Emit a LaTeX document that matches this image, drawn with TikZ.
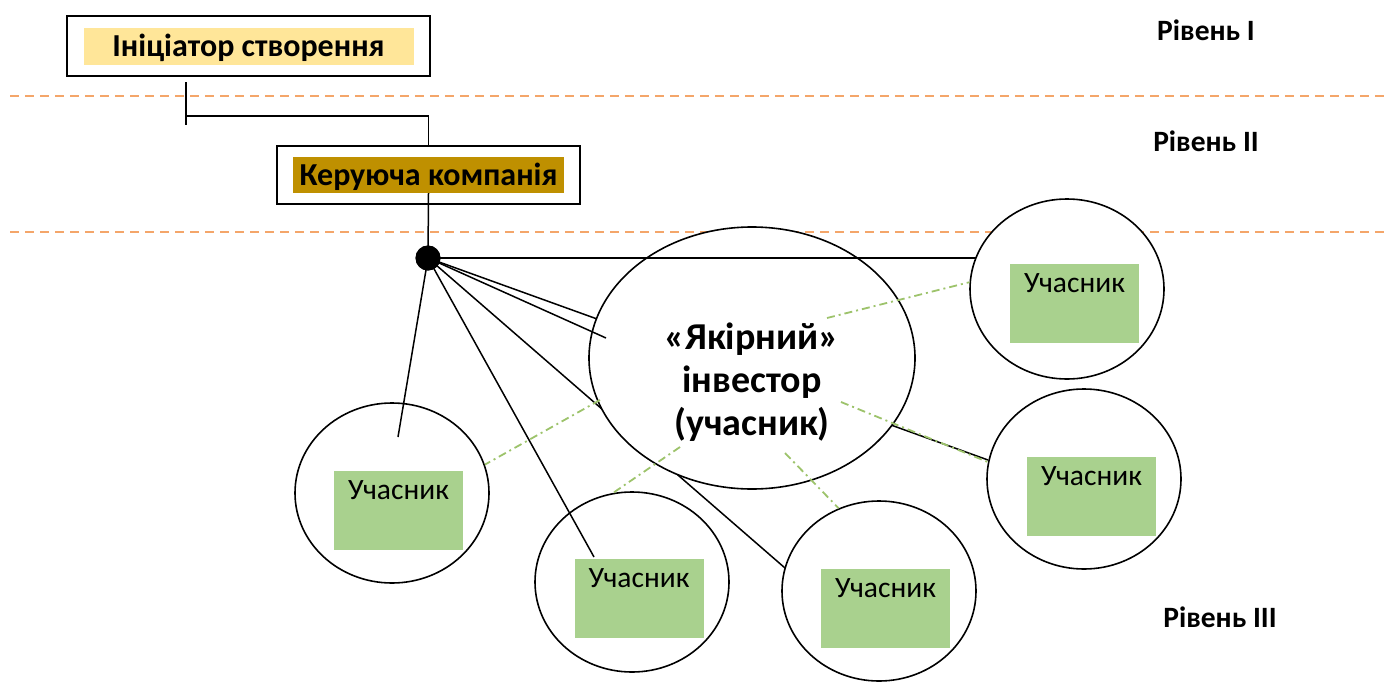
\documentclass[tikz,border=0pt]{standalone}
\usepackage{fontspec}
\setmainfont{Carlito}
\usepackage{xcolor}
\usetikzlibrary{calc,positioning,shapes.geometric}
\definecolor{color_line_level}{HTML}{F4A66A}
\definecolor{color_fill_init}{HTML}{FFE699}
\definecolor{color_fill_mgr}{HTML}{BF9000}
\definecolor{color_fill_member}{HTML}{A9D18E}
\definecolor{color_line_tie}{HTML}{9DC36B}

\begin{document}
\begin{tikzpicture}[x=1pt,y=-1pt,black,
		every node/.style={font=\fontsize{29.5}{34}\selectfont},
		levelline/.style={color_line_level, line width=1.5pt, dash pattern=on 9pt off 6pt},
		linkline/.style={line width=1.5pt},
		tieline/.style={color_line_tie, line width=1.8pt, dash pattern=on 8pt off 4pt on 2pt off 4pt},
		framebox/.style={draw, line width=1.7pt, inner sep=0pt},
		member/.style={draw, ellipse, fill=white, line width=1.6pt, minimum width=194pt, minimum height=180pt, inner sep=0pt},
		memberbox/.style={fill=color_fill_member, minimum width=129pt, minimum height=79pt, inner sep=0pt,
			label={[anchor=north, inner sep=0pt, yshift=-10pt]north:Учасник}},
		levellabel/.style={font=\fontsize{29.5}{34}\selectfont\bfseries},
		titlebox/.style={inner sep=0pt, text height=25pt, text depth=4pt, font=\fontsize{32}{38}\selectfont\bfseries},
		hub/.style={circle, fill=black, minimum size=25pt, inner sep=0pt}]
				\useasboundingbox (0, 0) rectangle (1390, 691);
				% Points
				\coordinate (LAL) at (10, 96);
				\coordinate (LAR) at (1385, 96);
				\coordinate (LBL) at (10, 232);
				\coordinate (LBR) at (1385, 232);

				\coordinate (tickT) at (186, 82);
				\coordinate (tickM) at (186, 116);
				\coordinate (tickB) at (186, 125);

				\coordinate (endTop) at (976, 258);
				\coordinate (endRight) at (988, 460);
				\coordinate (endShort) at (606, 338);
				\coordinate (endLow) at (785, 568);
				\coordinate (endMid) at (594, 557);
				\coordinate (endLeft) at (398, 437);

				\coordinate (tieA) at (827, 318);
				\coordinate (tieB) at (600, 400);
				\coordinate (tieC) at (680, 447);
				\coordinate (tieD) at (785, 453);
				\coordinate (tieE) at (841, 402);

				% Level borders
				\draw[levelline] (LAL) -- (LAR);
				\draw[levelline] (LBL) -- (LBR);

				% Level I and II
				\node[framebox, minimum width=363pt, minimum height=60pt] (init) at (248.5, 46) {};
				\node[titlebox, fill=color_fill_init, minimum width=330pt, minimum height=37pt]
					(initfill) at (init.center) {Ініціатор створення};
				\node[framebox, minimum width=303pt, minimum height=58pt] (mgr) at (428.5, 175) {};
				\node[titlebox, fill=color_fill_mgr, minimum width=271pt, minimum height=36pt]
					(mgrfill) at (mgr.center) {Керуюча компанія};

				\draw[linkline] (tickT) -- (tickB);
				\draw[linkline] (tickM) -| (mgr.north);
				\draw[linkline] (mgrfill.south) -- (428, 258);

				% Members
				\foreach \n/\cx/\cy/\bx/\by in {1/1067/289/1074.5/303.5, 2/1084/479/1091.5/496.5,
						3/392/493/398.5/510.5, 4/632/582/639/598.5, 5/879/591/885.5/608.5}{
					\node[member] (p\n) at (\cx, \cy) {};
					\node[memberbox] (p\n box) at (\bx, \by) {};
				}

				% Level III
				\node[hub] (hub) at (428, 258) {};
				\draw[linkline] (hub.center) -- (endRight);
				\draw[linkline] (hub.center) -- (endLow);
				\node[draw, ellipse, fill=white, line width=1.6pt, minimum width=326pt, minimum height=262pt]
					(lead) at (752, 358) {};
				\draw[linkline] (hub.center) -- (endTop);
				\draw[linkline] (hub.center) -- (endShort);
				\draw[linkline] (hub.center) -- (endMid);
				\draw[linkline] (hub.center) -- (endLeft);
				\node[hub] at (hub.center) {};

				\draw[tieline] (tieA) -- (p1.176);
				\draw[tieline] (tieB) -- (p3.17);
				\draw[tieline] (tieC) -- (p4.102);
				\draw[tieline] (tieD) -- (p5.116);
				\draw[tieline] (tieE) -- (p2.170);

				\node[align=center, font=\fontsize{38}{43}\selectfont\bfseries] (leadtext) at (752, 382)
					{«Якірний»\\інвестор\\(учасник)};

				% Levels
				\node[levellabel] (lvlI) at (1206, 30) {Рівень I};
				\node[levellabel] (lvlII) at (1206, 141) {Рівень II};
				\node[levellabel] (lvlIII) at (1220, 617) {Рівень III};
			\end{tikzpicture}
\end{document}
